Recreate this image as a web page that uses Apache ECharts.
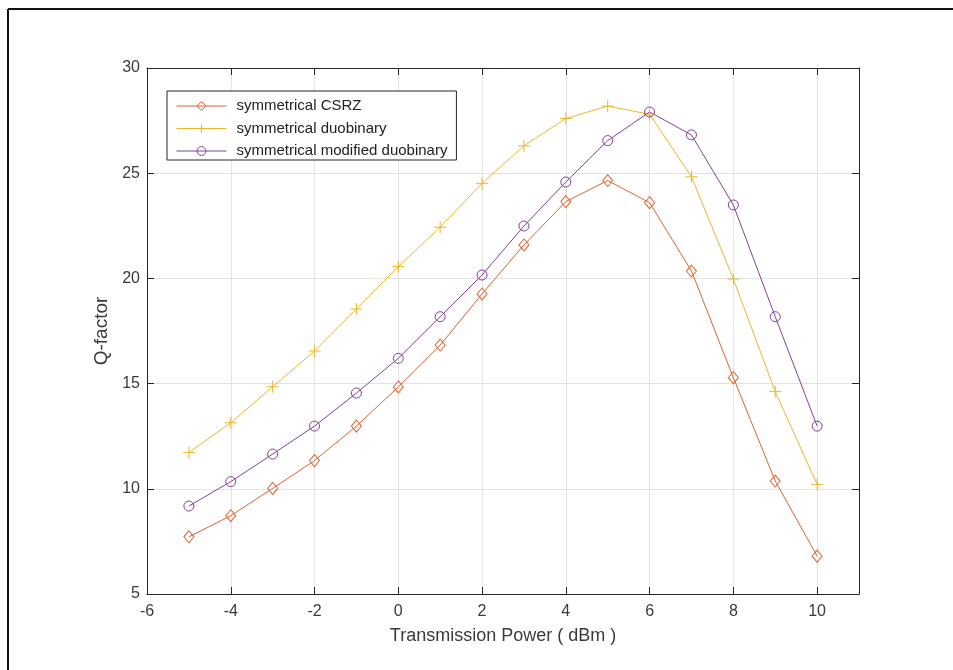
<!DOCTYPE html>
<html>
<head>
<meta charset="utf-8">
<script src="https://cdn.jsdelivr.net/npm/echarts@6/dist/echarts.min.js"></script>
<style>
  html, body { margin: 0; padding: 0; background: #fff; }
  #chart { width: 953px; height: 670px; }
</style>
</head>
<body>
<div id="chart"></div>
<script>
// 发射功率 (dBm)
const powerDbm = [-5, -4, -3, -2, -1, 0, 1, 2, 3, 4, 5, 6, 7, 8, 9, 10]

const csrzQ = [7.72, 8.72, 10.02, 11.34, 12.98, 14.84, 16.83, 19.26, 21.59, 23.65, 24.65, 23.6, 20.35, 15.28, 10.37, 6.8]
const duobinaryQ = [11.72, 13.14, 14.85, 16.55, 18.55, 20.56, 22.43, 24.52, 26.3, 27.6, 28.19, 27.8, 24.83, 19.97, 14.62, 10.21]
const modDuobinaryQ = [9.18, 10.34, 11.65, 12.98, 14.55, 16.2, 18.18, 20.16, 22.49, 24.58, 26.55, 27.91, 26.82, 23.49, 18.18, 12.98]

const seriesNames = ['symmetrical CSRZ', 'symmetrical duobinary', 'symmetrical modified duobinary']

const FONT = 'Liberation Sans, Arial, Helvetica, sans-serif'
const AXIS_COLOR = '#262626'
const TEXT_COLOR = '#3a3a3a'
const GRID_COLOR = '#e3e3e3'

function toPairs(ys) {
  return powerDbm.map((x, i) => [x, ys[i]])
}

function lineSeries(name, ys, color, symbol, size) {
  return {
    name,
    type: 'line',
    xAxisIndex: 0,
    yAxisIndex: 0,
    data: toPairs(ys),
    symbol,
    symbolSize: size,
    showAllSymbol: true,
    lineStyle: { color, width: 1 },
    itemStyle: { color: 'transparent', borderColor: color, borderWidth: 1 },
    emphasis: { disabled: true },
    z: 3
  }
}

const xTickFmt = (v) => (v === 11 ? '' : String(v))

const option = {
  animation: false,
  backgroundColor: '#fff',
  grid: { left: 147, right: 94, top: 68, bottom: 76, containLabel: false },
  legend: {
    orient: 'vertical',
    left: 167,
    top: 91,
    padding: [7, 9, 1, 9],
    itemWidth: 50,
    itemHeight: 11,
    itemGap: 6.5,
    borderColor: AXIS_COLOR,
    borderWidth: 1,
    backgroundColor: '#fff',
    selectedMode: false,
    itemStyle: { borderWidth: 1 },
    lineStyle: { width: 1 },
    textStyle: { fontFamily: FONT, fontSize: 15, color: '#222', lineHeight: 16, padding: [0, 0, 0, 5] },
    data: seriesNames
  },
  xAxis: [
    {
      type: 'value',
      min: -6,
      max: 11,
      interval: 2,
      name: 'Transmission Power ( dBm )',
      nameLocation: 'middle',
      nameGap: 33,
      nameTextStyle: { fontFamily: FONT, fontSize: 18, color: TEXT_COLOR },
      axisLine: { onZero: false, lineStyle: { color: AXIS_COLOR, width: 1 } },
      axisTick: { inside: true, length: 7, lineStyle: { color: AXIS_COLOR } },
      axisLabel: { margin: 10, fontFamily: FONT, fontSize: 16, color: TEXT_COLOR, formatter: xTickFmt },
      splitLine: { show: true, lineStyle: { color: GRID_COLOR, width: 1 } }
    },
    {
      type: 'value',
      position: 'top',
      min: -6,
      max: 11,
      interval: 2,
      axisLine: { onZero: false, lineStyle: { color: AXIS_COLOR, width: 1 } },
      axisTick: { inside: true, length: 7, lineStyle: { color: AXIS_COLOR } },
      axisLabel: { show: false },
      splitLine: { show: false }
    }
  ],
  yAxis: [
    {
      type: 'value',
      min: 5,
      max: 30,
      interval: 5,
      name: 'Q-factor',
      nameLocation: 'middle',
      nameGap: 30,
      nameTextStyle: { fontFamily: FONT, fontSize: 19, color: TEXT_COLOR },
      axisLine: { show: true, onZero: false, lineStyle: { color: AXIS_COLOR, width: 1 } },
      axisTick: { show: true, inside: true, length: 7, lineStyle: { color: AXIS_COLOR } },
      axisLabel: { margin: 7, fontFamily: FONT, fontSize: 16, color: TEXT_COLOR, padding: [6, 0, 0, 0] },
      splitLine: { show: true, lineStyle: { color: GRID_COLOR, width: 1 } }
    },
    {
      type: 'value',
      position: 'right',
      min: 5,
      max: 30,
      interval: 5,
      axisLine: { show: true, onZero: false, lineStyle: { color: AXIS_COLOR, width: 1 } },
      axisTick: { show: true, inside: true, length: 7, lineStyle: { color: AXIS_COLOR } },
      axisLabel: { show: false },
      splitLine: { show: false }
    }
  ],
  series: [
    lineSeries(seriesNames[0], csrzQ, '#DC6434', 'diamond', [10, 12]),
    lineSeries(seriesNames[1], duobinaryQ, '#ECB62E', 'path://M0,5L10,5M5,0L5,10', 12),
    lineSeries(seriesNames[2], modDuobinaryQ, '#85419A', 'circle', 10)
  ],
  graphic: [
    // 图框（只露出上边和左边）
    { type: 'line', shape: { x1: 8, y1: 9, x2: 953, y2: 9 }, style: { stroke: '#111', lineWidth: 2 }, silent: true },
    { type: 'line', shape: { x1: 8, y1: 9, x2: 8, y2: 670 }, style: { stroke: '#111', lineWidth: 2 }, silent: true }
  ]
}

const mychart = echarts.init(document.getElementById('chart'), null, { renderer: 'canvas' })
mychart.setOption(option)
</script>
</body>
</html>
